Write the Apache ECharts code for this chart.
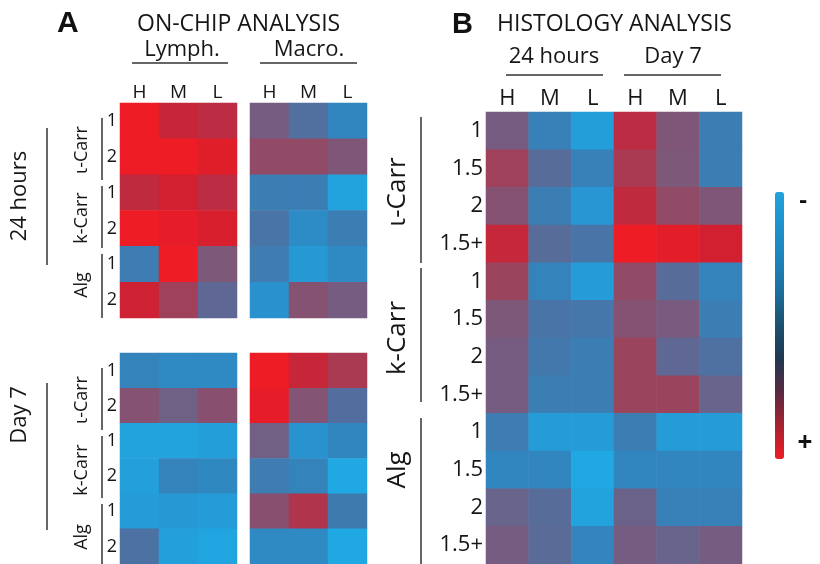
<!DOCTYPE html>
<html>
<head>
<meta charset="utf-8">
<script src="https://cdn.jsdelivr.net/npm/echarts@6/dist/echarts.min.js"></script>
<style>html,body{margin:0;padding:0;background:#fff}#c{width:820px;height:564px}</style>
</head>
<body>
<div id="c"></div>
<script>
// ---------- data (0 = "-" blue, 1 = "+" red) ----------
const colsA = ['H', 'M', 'L'];
const rowsA = ['1', '2', '1', '2', '1', '2'];
const lymph24 = [[1.0,0.85,0.80],[1.0,1.0,0.95],[0.82,0.90,0.80],[1.0,0.97,0.92],[0.22,1.0,0.52],[0.88,0.68,0.38]];
const macro24 = [[0.48,0.32,0.15],[0.62,0.62,0.53],[0.20,0.20,0.02],[0.28,0.12,0.20],[0.22,0.06,0.13],[0.09,0.56,0.48]];
const lymphD7 = [[0.17,0.13,0.13],[0.56,0.45,0.58],[0.02,0.02,0.04],[0.03,0.17,0.14],[0.05,0.06,0.05],[0.30,0.03,0.01]];
const macroD7 = [[1.0,0.85,0.72],[0.97,0.55,0.33],[0.46,0.08,0.15],[0.22,0.17,0.0],[0.58,0.75,0.23],[0.13,0.13,0.0]];
const colsB = ['H', 'M', 'L', 'H', 'M', 'L'];
const rowsB = ['1','1.5','2','1.5+','1','1.5','2','1.5+','1','1.5','2','1.5+'];
const histology = [
  [0.48,0.18,0.04,0.80,0.53,0.20],
  [0.68,0.35,0.18,0.72,0.52,0.20],
  [0.56,0.20,0.07,0.82,0.62,0.53],
  [0.84,0.35,0.28,1.00,0.96,0.90],
  [0.66,0.17,0.05,0.62,0.35,0.17],
  [0.52,0.28,0.26,0.56,0.49,0.20],
  [0.48,0.25,0.20,0.66,0.38,0.31],
  [0.48,0.20,0.20,0.66,0.66,0.42],
  [0.22,0.05,0.05,0.21,0.05,0.05],
  [0.15,0.15,0.00,0.15,0.15,0.15],
  [0.42,0.35,0.02,0.43,0.18,0.18],
  [0.48,0.36,0.16,0.48,0.42,0.48]
];

const FONT = 'Open Sans';
const TXT = '#161616';

function cells(m) {
  const out = [];
  m.forEach((row, r) => row.forEach((v, c) => out.push([c, r, v])));
  return out;
}

const grids = [
  {left: 120, top: 103, width: 117, height: 215},
  {left: 250, top: 103, width: 117, height: 215},
  {left: 120, top: 353, width: 117, height: 215},
  {left: 250, top: 353, width: 117, height: 215},
  {left: 486, top: 112, width: 256, height: 456}
];
const mats = [lymph24, macro24, lymphD7, macroD7, histology];
const showX = [true, true, false, false, true];
const showY = [true, false, true, false, true];

const xAxes = grids.map((g, i) => ({
  type: 'category', gridIndex: i, position: 'top',
  data: i === 4 ? colsB : colsA,
  axisLine: {show: false}, axisTick: {show: false}, splitLine: {show: false},
  axisLabel: {show: showX[i], fontFamily: FONT, fontSize: i === 4 ? 22 : 19, color: TXT, margin: i === 4 ? 2 : 1}
}));
const yAxes = grids.map((g, i) => ({
  type: 'category', gridIndex: i, inverse: true,
  data: i === 4 ? rowsB : rowsA,
  axisLine: {show: false}, axisTick: {show: false}, splitLine: {show: false},
  axisLabel: {show: showY[i], fontFamily: FONT, fontSize: i === 4 ? 22 : 18, color: TXT, margin: 3}
}));

const series = mats.map((m, i) => ({
  type: 'heatmap', xAxisIndex: i, yAxisIndex: i, data: cells(m),
  itemStyle: {borderWidth: 0}, emphasis: {disabled: true}, silent: true
}));
// empty series that only carries the displayed colour bar
series.push({type: 'heatmap', xAxisIndex: 4, yAxisIndex: 4, data: []});

function txt(x, y, s, size, opts) {
  return Object.assign({
    type: 'text', x: x, y: y,
    style: {text: s, fontFamily: FONT, fontSize: size, fill: TXT, textAlign: 'center', textVerticalAlign: 'middle'}
  }, opts || {});
}
function vtxt(x, y, s, size) {
  return txt(x, y, s, size, {rotation: Math.PI / 2});
}
function line(x1, y1, x2, y2) {
  return {type: 'line', shape: {x1: x1, y1: y1, x2: x2, y2: y2}, style: {stroke: '#333', lineWidth: 1.5}};
}

const graphic = [
  {type: 'text', x: 57, y: 24, style: {text: 'A', fontFamily: 'Liberation Sans', fontWeight: 'bold', fontSize: 30, fill: '#111', textVerticalAlign: 'middle'}},
  {type: 'text', x: 137, y: 24, style: {text: 'ON-CHIP ANALYSIS', fontFamily: FONT, fontSize: 23, fill: TXT, textVerticalAlign: 'middle'}},
  txt(182, 50, 'Lymph.', 22),
  txt(309, 50, 'Macro.', 22),
  line(132, 63, 228, 63), line(260, 63, 357, 63),
  {type: 'text', x: 452, y: 25, style: {text: 'B', fontFamily: 'Liberation Sans', fontWeight: 'bold', fontSize: 29, fill: '#111', textVerticalAlign: 'middle'}},
  {type: 'text', x: 497, y: 24, style: {text: 'HISTOLOGY ANALYSIS', fontFamily: FONT, fontSize: 23, fill: TXT, textVerticalAlign: 'middle'}},
  txt(554, 57, '24 hours', 22),
  txt(673, 57, 'Day 7', 22),
  line(506, 75, 603, 75), line(624, 75, 721, 75),
  // panel A left labels
  vtxt(20, 196, '24 hours', 22),
  vtxt(20, 415, 'Day 7', 22),
  line(47, 128, 47, 265), line(47, 383, 47, 530),
  vtxt(82, 150, 'ι-Carr', 18), vtxt(82, 218, 'k-Carr', 18), vtxt(82, 285, 'Alg', 18),
  vtxt(82, 400, 'ι-Carr', 18), vtxt(82, 470, 'k-Carr', 18), vtxt(82, 537, 'Alg', 18),
  line(102, 118, 102, 180), line(102, 186, 102, 248), line(102, 254, 102, 318),
  line(102, 368, 102, 430), line(102, 436, 102, 498), line(102, 504, 102, 564),
  // panel B left labels
  vtxt(398, 192, 'ι-Carr', 26), vtxt(398, 338, 'k-Carr', 26), vtxt(398, 470, 'Alg', 26),
  line(421, 117, 421, 263), line(421, 268, 421, 402), line(421, 418, 421, 564),
  // colour bar ends
  {type: 'text', x: 803, y: 201, style: {text: '-', fontFamily: FONT, fontWeight: 'bold', fontSize: 24, fill: '#111', textAlign: 'center', textVerticalAlign: 'middle'}},
  {type: 'text', x: 805, y: 444, style: {text: '+', fontFamily: FONT, fontWeight: 'bold', fontSize: 26, fill: '#111', textAlign: 'center', textVerticalAlign: 'middle'}}
];

const chart = echarts.init(document.getElementById('c'), null, {renderer: 'canvas'});
chart.setOption({
  animation: false,
  backgroundColor: '#fff',
  grid: grids,
  xAxis: xAxes,
  yAxis: yAxes,
  visualMap: [
    {
      type: 'continuous', show: false, min: 0, max: 1, seriesIndex: [0, 1, 2, 3, 4],
      inRange: {color: ['#20A8E3', '#2A8ECA', '#3A7EB4', '#4C72A4', '#646690', '#7A5A7C', '#8C4E6A', '#A43E56', '#BC2C42', '#D22030', '#EE1C24']}
    },
    {
      type: 'continuous', show: true, min: 0, max: 1, seriesIndex: [5], inverse: true,
      calculable: false, text: null, padding: 0, left: 775, top: 192, itemWidth: 9, itemHeight: 267,
      inRange: {color: ['#22A2DC', '#1E92CC', '#1E84BC', '#1C6E9C', '#1C5070', '#203850', '#5A2842', '#A82230', '#EE1C24']}
    }
  ],
  graphic: graphic,
  series: series
});
</script>
</body>
</html>
